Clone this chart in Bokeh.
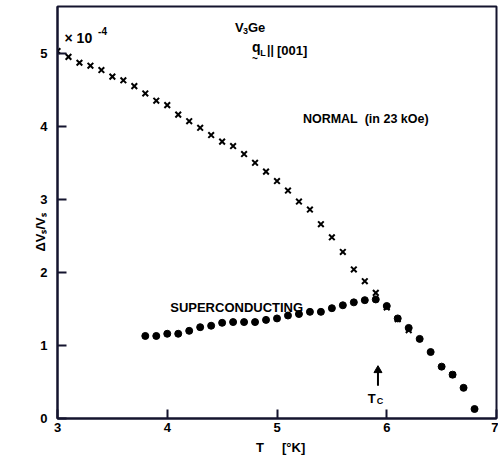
from bokeh.plotting import figure
from bokeh.models import Label, FixedTicker, Range1d
from bokeh.embed import file_html
from bokeh.resources import INLINE

# ---- data ----
normal_T = [3.0, 3.1, 3.2, 3.3, 3.4, 3.5, 3.6, 3.7, 3.8, 3.9, 4.0, 4.1, 4.2, 4.3,
            4.4, 4.5, 4.6, 4.7, 4.8, 4.9, 5.0, 5.1, 5.2, 5.3, 5.4, 5.5, 5.6, 5.7,
            5.8, 5.9, 6.0, 6.1, 6.2, 6.6]
normal_dv = [5.03, 4.95, 4.87, 4.83, 4.77, 4.68, 4.63, 4.55, 4.45, 4.35, 4.29, 4.16,
             4.07, 3.98, 3.88, 3.79, 3.73, 3.62, 3.50, 3.38, 3.25, 3.12, 2.97, 2.86,
             2.66, 2.48, 2.28, 2.04, 1.88, 1.72, 1.52, 1.36, 1.21, 0.60]

sc_T = [3.8, 3.9, 4.0, 4.1, 4.2, 4.3, 4.4, 4.5, 4.6, 4.7, 4.8, 4.9, 5.0, 5.1, 5.2,
        5.3, 5.4, 5.5, 5.6, 5.7, 5.8, 5.9, 6.0, 6.1, 6.2, 6.3, 6.4, 6.5, 6.6, 6.7, 6.8]
sc_dv = [1.13, 1.13, 1.16, 1.16, 1.20, 1.25, 1.27, 1.31, 1.32, 1.32, 1.32, 1.35, 1.37,
         1.41, 1.43, 1.46, 1.46, 1.51, 1.55, 1.59, 1.62, 1.63, 1.54, 1.37, 1.24, 1.09,
         0.91, 0.71, 0.60, 0.42, 0.13]

tc_T = 5.92  # transition temperature marked by the arrow

x_ticks = [3, 4, 5, 6, 7]
y_ticks = [0, 1, 2, 3, 4, 5]
x_lim = (3, 7)
y_lim = (0, 5.64)

FONT = "Liberation Sans"
NB = "\u00a0"
FRAME = "#14142e"

p = figure(width=498, height=460, output_backend="svg", toolbar_location=None,
           x_range=Range1d(*x_lim), y_range=Range1d(*y_lim),
           min_border_left=57, min_border_right=2, min_border_top=6, min_border_bottom=42)
p.outline_line_color = FRAME
p.outline_line_width = 2
p.xgrid.visible = False
p.ygrid.visible = False

for ax in (p.xaxis[0], p.yaxis[0]):
    ax.axis_line_width = 2
    ax.axis_line_color = FRAME
    ax.major_tick_line_width = 2
    ax.major_tick_line_color = FRAME
    ax.major_tick_in = 9
    ax.major_tick_out = 0
    ax.minor_tick_line_color = None
    ax.major_label_text_font = FONT
    ax.major_label_text_font_style = "bold"
    ax.major_label_text_font_size = "13px"
    ax.major_label_text_color = "black"
    ax.axis_label_text_font = FONT
    ax.axis_label_text_font_style = "bold"
    ax.axis_label_text_font_size = "13px"
    ax.axis_label_text_color = "black"
p.xaxis[0].ticker = FixedTicker(ticks=x_ticks)
p.yaxis[0].ticker = FixedTicker(ticks=y_ticks)
p.xaxis[0].major_label_standoff = 4
p.yaxis[0].major_label_standoff = 10
p.xaxis[0].axis_label = NB * 2 + "T" + NB * 5 + "[\u00b0K]"
p.xaxis[0].axis_label_standoff = 5
p.yaxis[0].axis_label = "\u0394V\u209b/V\u209b" + NB * 11
p.yaxis[0].axis_label_standoff = -11

p.scatter(normal_T, normal_dv, marker="x", size=8, line_width=2, line_color="black")
p.scatter(sc_T, sc_dv, marker="circle", size=7, fill_color="black", line_color="black")

# Tc arrow drawn with glyphs (shaft + head) at the transition temperature
p.segment(x0=[tc_T], y0=[0.45], x1=[tc_T], y1=[0.64], line_width=2, line_color="black")
p.scatter([tc_T], [0.66], marker="triangle", size=8, fill_color="black", line_color="black")


def lab(x, y, text, size="12px"):
    p.add_layout(Label(x=x, y=y, text=text, text_font=FONT, text_font_style="bold",
                       text_font_size=size, text_color="black", text_baseline="alphabetic"))


# multiplier
lab(3.064, 5.205, "\u00d7 10", "14px")
lab(3.37, 5.30, "-4", "10px")
# material
lab(4.618, 5.356, "V", "13px")
lab(4.69, 5.30, "3", "9px")
lab(4.735, 5.356, "Ge", "13px")
lab(4.773, 5.082, "q", "14px")
lab(4.848, 5.0, "L", "9px")
lab(4.773, 4.93, "~", "10px")
lab(4.91, 5.04, "||", "12px")
lab(5.0, 5.04, "[001]", "13px")
# curve labels
lab(5.236, 4.096, "NORMAL" + NB + " (in 23 kOe)", "12.5px")
lab(4.027, 1.52, "SUPERCONDUCTING", "13px")
# Tc
lab(5.827, 0.274, "T", "13px")
lab(5.91, 0.233, "C", "9px")

open("out.html", "w").write(file_html(p, INLINE))
